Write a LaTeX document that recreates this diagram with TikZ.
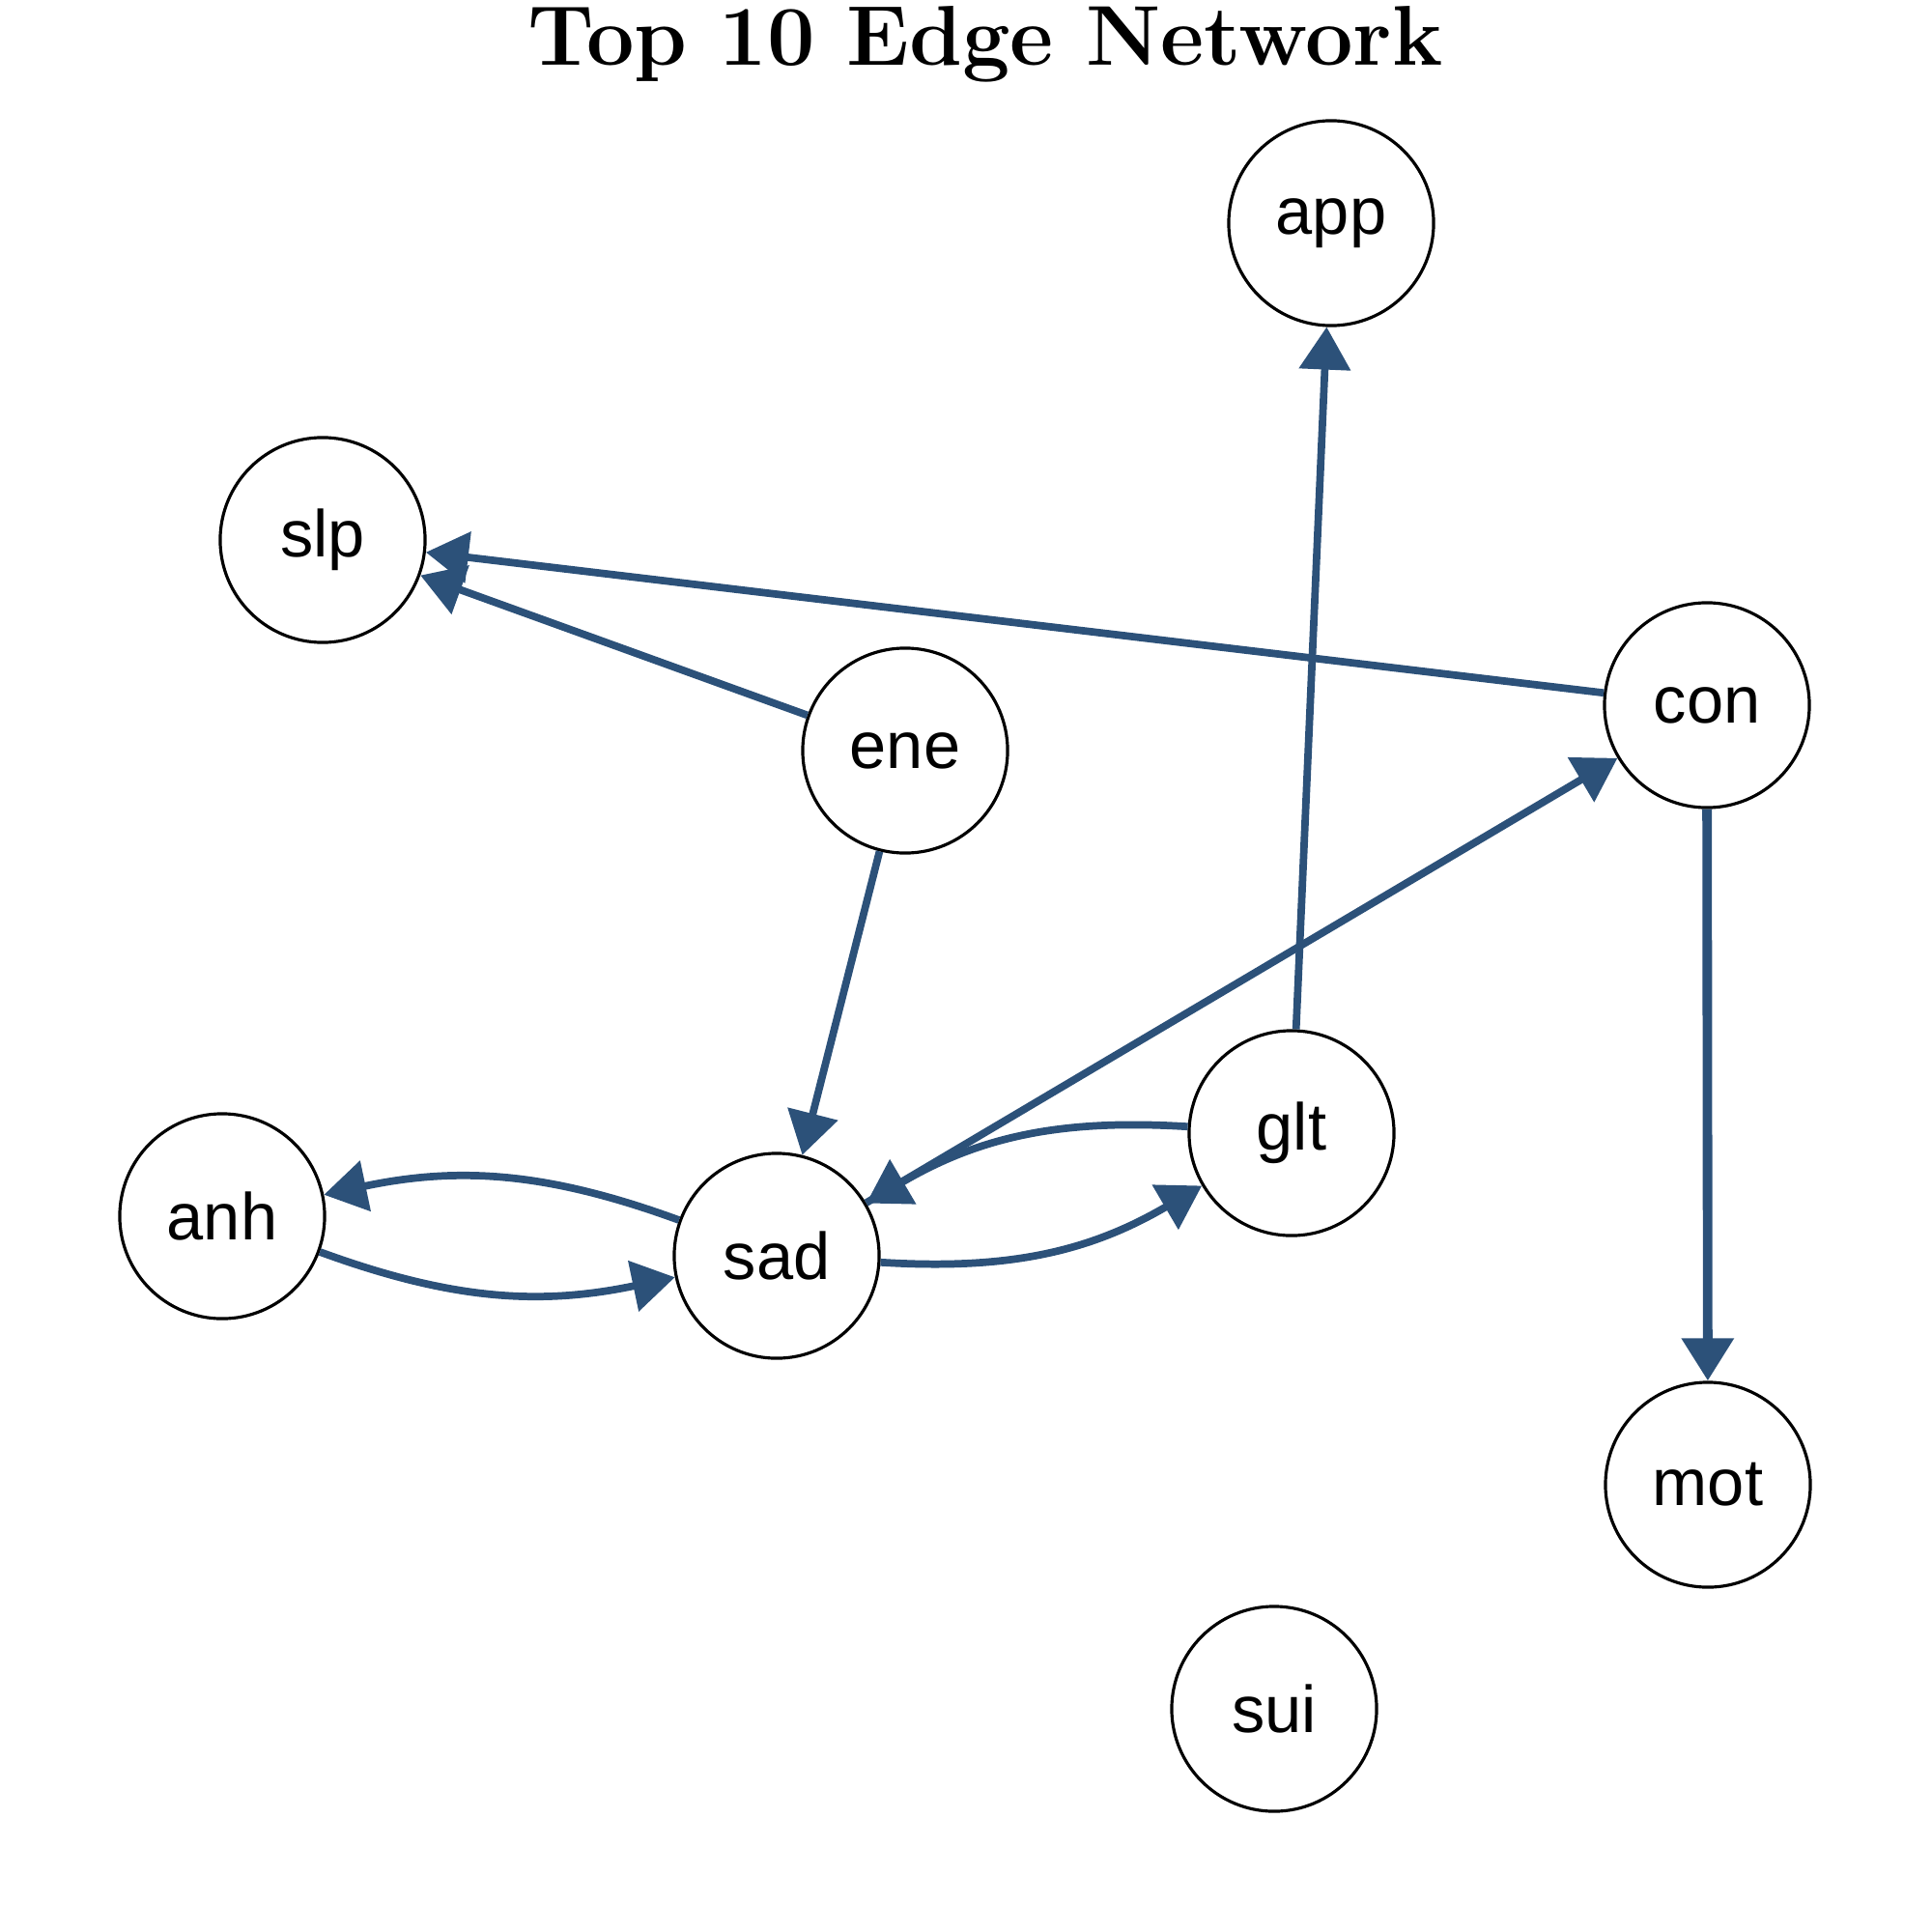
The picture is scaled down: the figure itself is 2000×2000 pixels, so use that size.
\documentclass[tikz,border=0pt]{standalone}
\usepackage{fontspec}
\newfontfamily\labelfont{Liberation Sans}
\usetikzlibrary{arrows.meta}
\definecolor{edgeblue}{RGB}{44,81,121}

\begin{document}
\begin{tikzpicture}[x=0.01cm,y=-0.01cm,
    vertex/.style={circle,draw,line width=0.9pt,minimum size=2.12cm,inner sep=0pt,
      font=\labelfont\fontsize{19.5}{24}\selectfont},
    link/.style={->,>={Triangle[length=0.44cm,width=0.52cm]},color=edgeblue,line width=2.2pt}]
            \useasboundingbox (0,0) rectangle (2000,2000);
            \node[anchor=base,font=\fontsize{25}{30}\selectfont\bfseries] (title) at (1020,68) {Top 10 Edge Network};
            \node[vertex] (app) at (1378,231) {app};
            \node[vertex] (slp) at (334,559) {slp};
            \node[vertex] (ene) at (937,777) {ene};
            \node[vertex] (con) at (1767,730) {con};
            \node[vertex] (glt) at (1337,1173) {glt};
            \node[vertex] (anh) at (230,1259) {anh};
            \node[vertex] (sad) at (804,1300) {sad};
            \node[vertex] (mot) at (1768,1537) {mot};
            \node[vertex] (sui) at (1319,1769) {sui};
                \path[link]
                (glt) edge (app)
                    edge [bend right=17] (sad)
                (con) edge (slp)
                    edge [line width=2.8pt] (mot)
                (ene) edge (slp)
                    edge (sad)
                (sad) edge (con)
                    edge [bend right=17] (glt)
                    edge [bend right=16] (anh)
                (anh) edge [bend right=16] (sad);
        \end{tikzpicture}
\end{document}
